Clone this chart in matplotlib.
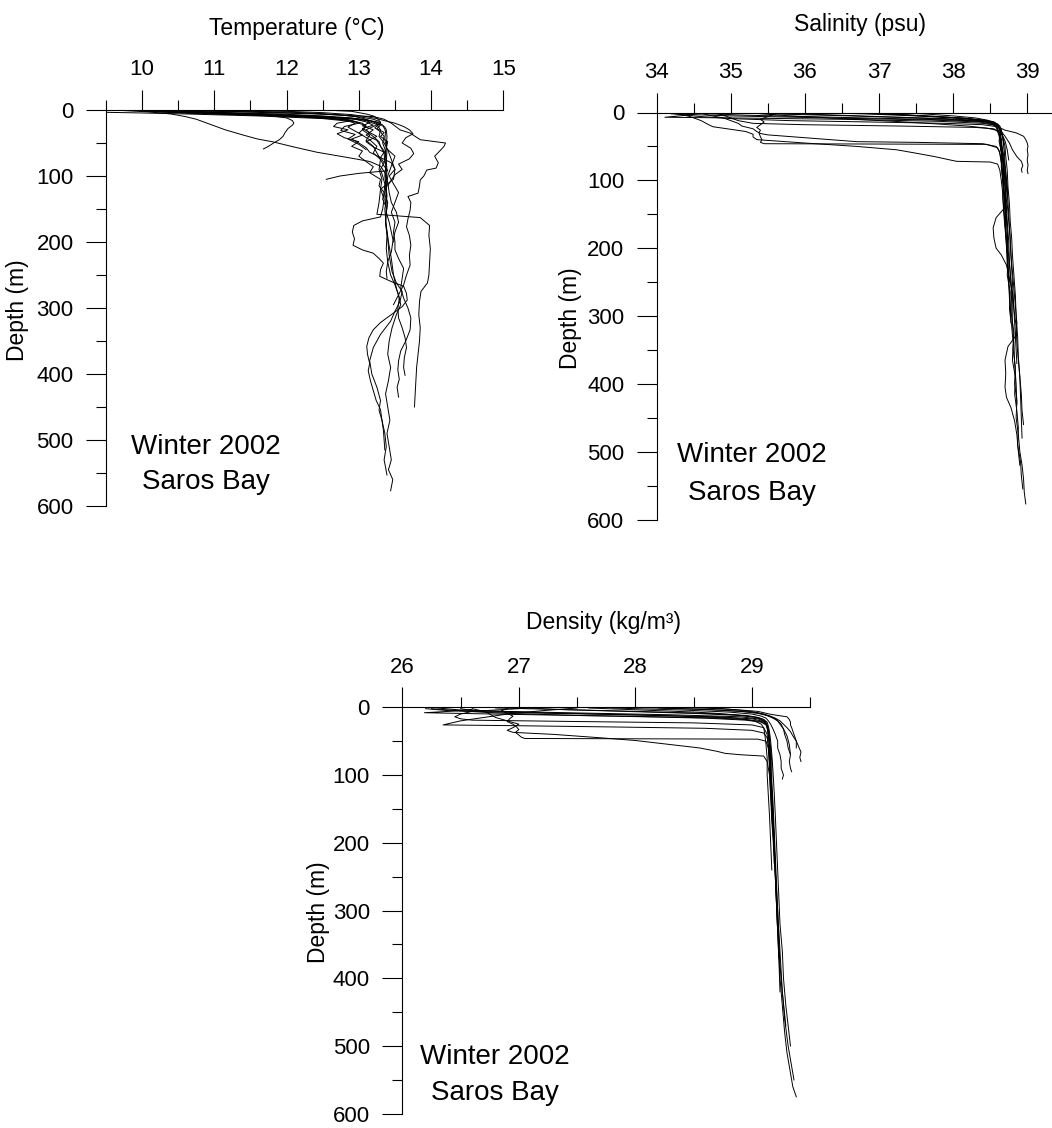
import matplotlib
matplotlib.use("Agg")
import matplotlib.pyplot as plt
from matplotlib.ticker import MultipleLocator

plt.rcParams["font.family"] = ["Liberation Sans", "DejaVu Sans"]

# ---------------------------------------------------------------------------
# CTD casts, Saros Bay, winter 2002.  Each cast: depth (m) and value.
# ---------------------------------------------------------------------------

# Temperature (degC)
t01_z = [1, 3, 6, 9, 12, 15, 18, 22, 26, 30, 40, 55, 70, 90, 110, 130, 150, 170, 190, 210,
         230, 250, 265, 280, 295, 310, 330, 350, 370, 390, 410, 430, 450, 470, 490, 510, 530, 545, 560, 577]
t01 = [10.0, 10.4, 11.3, 12.2, 12.8, 13.1, 13.25, 13.32, 13.36, 13.38, 13.39, 13.38, 13.37, 13.39, 13.38,
       13.36, 13.38, 13.37, 13.39, 13.38, 13.40, 13.44, 13.50, 13.55, 13.58, 13.52, 13.46, 13.42, 13.40, 13.44,
       13.41, 13.37, 13.40, 13.43, 13.39, 13.42, 13.45, 13.41, 13.47, 13.44]

t02_z = [2, 4, 7, 10, 13, 16, 20, 25, 32, 45, 60, 80, 100, 120, 145, 170, 195, 220, 245, 262,
         275, 290, 305, 320, 340, 360, 380, 400, 420, 440, 455, 470, 490, 510, 530, 553]
t02 = [10.3, 10.9, 11.8, 12.5, 12.95, 13.15, 13.28, 13.34, 13.37, 13.36, 13.39, 13.38, 13.36, 13.38, 13.39,
       13.37, 13.40, 13.42, 13.46, 13.52, 13.60, 13.57, 13.50, 13.44, 13.30, 13.20, 13.15, 13.18, 13.25, 13.30,
       13.28, 13.32, 13.36, 13.38, 13.35, 13.39]

t03_z = [1, 3, 6, 10, 14, 20, 30, 35, 45, 50, 55, 61, 70, 80, 88, 91, 100, 106, 115, 126,
         131, 140, 152, 165, 177, 190, 205, 220, 235, 250, 265, 280, 295]
t03 = [10.6, 11.4, 12.4, 13.2, 13.35, 13.45, 13.57, 13.71, 13.85, 14.20, 14.18, 14.13, 14.05, 14.10, 14.07,
       13.94, 13.90, 13.85, 13.84, 13.82, 13.68, 13.72, 13.71, 13.68, 13.66, 13.70, 13.72, 13.70, 13.71, 13.66,
       13.62, 13.55, 13.48]

t04_z = [1, 4, 8, 12, 16, 22, 30, 40, 50, 60, 75, 90, 105, 120, 140, 158, 163, 175, 190, 210,
         230, 250, 262, 275, 290, 310, 330, 350, 370, 390, 410, 430, 450]
t04 = [10.4, 11.0, 12.0, 12.8, 13.1, 13.25, 13.3, 13.28, 13.35, 13.40, 13.45, 13.50, 13.48, 13.30, 13.28,
       13.25, 13.85, 13.98, 13.97, 13.99, 13.98, 13.97, 13.95, 13.86, 13.84, 13.83, 13.85, 13.84, 13.82, 13.80,
       13.79, 13.78, 13.77]

t05_z = [2, 5, 8, 12, 16, 20, 25, 35, 45, 55, 65, 75, 90, 105, 120, 135, 150, 162, 168, 175,
         185, 195, 205, 212, 217, 225, 232, 242, 252, 260, 267, 278, 288, 298, 310, 322, 333, 345, 358, 370,
         384, 395, 410, 425, 440, 454, 470, 485, 500, 515]
t05 = [10.2, 10.8, 11.9, 12.6, 12.9, 13.05, 13.1, 13.0, 13.15, 13.25, 13.2, 13.3, 13.28, 13.32, 13.30,
       13.35, 13.33, 13.30, 13.05, 12.93, 12.91, 12.94, 12.92, 13.05, 13.20, 13.28, 13.34, 13.30, 13.29, 13.45,
       13.62, 13.66, 13.67, 13.60, 13.45, 13.30, 13.20, 13.14, 13.11, 13.12, 13.15, 13.13, 13.16, 13.20, 13.24,
       13.30, 13.32, 13.34, 13.35, 13.36]

t06_z = [3.5, 4.5, 6, 9, 13, 18, 24, 30, 38, 46, 55, 65, 75, 85, 92, 96, 100, 105]
t06 = [9.5, 10.0, 10.6, 11.6, 12.5, 12.95, 13.1, 13.05, 13.15, 13.1, 13.2, 13.25, 13.3, 13.35, 13.4,
       13.0, 12.74, 12.55]

t07_z = [0, 3, 6, 10, 14, 18, 24, 30, 38, 44, 48, 56, 64, 70, 74, 78, 85, 95, 110, 125,
         140, 155, 170, 185, 200, 215, 230, 245, 255]
t07 = [9.6, 10.1, 10.4, 10.6, 10.75, 10.85, 11.0, 11.15, 11.4, 11.6, 11.8, 12.1, 12.42, 12.74, 12.95,
       13.15, 13.3, 13.36, 13.40, 13.42, 13.45, 13.52, 13.55, 13.50, 13.47, 13.45, 13.40, 13.38, 13.39]

t08_z = [0, 3, 6, 9, 12, 16, 20, 23, 28, 34, 40, 45, 50, 55, 59]
t08 = [10.5, 10.9, 11.4, 11.8, 12.0, 12.08, 12.1, 12.08, 12.02, 11.98, 11.95, 11.9, 11.82, 11.75, 11.68]

t09_z = [1, 3, 6, 9, 12, 16, 20, 25, 30, 36, 42, 48, 55, 62, 70, 78, 86, 95, 105, 115, 125, 135, 145]
t09 = [10.2, 10.7, 11.6, 12.4, 12.75, 12.9, 12.7, 12.65, 12.85, 12.7, 12.8, 13.0, 12.9, 13.05, 13.0,
       13.1, 13.2, 13.15, 13.3, 13.28, 13.35, 13.33, 13.37]

t10_z = [2, 5, 8, 11, 14, 18, 23, 28, 34, 40, 48, 56, 64, 72, 80, 90, 100, 112, 125, 140,
         155, 170, 185, 200, 212, 225, 240, 255, 270, 285, 300, 315, 333, 350, 365, 380, 394, 408, 420, 435]
t10 = [10.0, 10.7, 11.7, 12.5, 12.95, 13.1, 13.2, 13.05, 13.15, 13.25, 13.1, 13.2, 13.35, 13.3, 13.45,
       13.5, 13.42, 13.48, 13.55, 13.5, 13.45, 13.5, 13.48, 13.5, 13.5, 13.55, 13.62, 13.6, 13.58, 13.62,
       13.68, 13.72, 13.71, 13.65, 13.58, 13.55, 13.54, 13.56, 13.53, 13.55]

t11_z = [0, 2, 4, 7, 10, 13, 16, 20, 25, 30, 36, 42, 50, 58, 66, 74, 82, 90, 98, 106, 115]
t11 = [11.5, 12.0, 12.5, 12.9, 13.1, 13.25, 13.35, 13.5, 13.62, 13.7, 13.75, 13.65, 13.6, 13.72, 13.76,
       13.7, 13.55, 13.6, 13.5, 13.45, 13.4]

t12_z = [1, 3, 5, 8, 11, 14, 18, 22, 27, 33, 40, 50, 62, 75, 90, 110, 130, 150, 175, 200,
         225, 250, 270, 285, 300, 315, 330, 345, 360, 375, 390, 402]
t12 = [10.8, 11.6, 12.3, 12.8, 13.05, 13.2, 13.3, 13.28, 13.22, 13.3, 13.35, 13.33, 13.37, 13.36, 13.38,
       13.37, 13.39, 13.36, 13.38, 13.41, 13.45, 13.48, 13.52, 13.56, 13.54, 13.55, 13.60, 13.64, 13.66, 13.63,
       13.62, 13.64]

t13_z = [0, 1, 2, 4, 6, 9, 12, 16, 20, 25, 30, 36, 42, 48, 55, 62, 70]
t13 = [12.6, 12.7, 12.9, 13.0, 13.1, 13.2, 13.25, 13.28, 13.3, 13.2, 13.1, 13.15, 13.22, 13.28, 13.3,
       13.35, 13.38]

t14_z = [0, 2, 5, 8, 11, 15, 20, 26, 32, 38, 44, 50, 57, 64, 72, 80, 90, 100, 112, 125,
         140, 155, 170, 185, 200]
t14 = [9.95, 10.3, 10.9, 11.7, 12.4, 12.8, 12.95, 12.85, 12.95, 13.05, 12.9, 13.0, 13.1, 13.15, 13.3,
       13.35, 13.3, 13.33, 13.36, 13.35, 13.4, 13.38, 13.42, 13.45, 13.48]

t15_z = [1, 2, 4, 6, 9, 12, 15, 19, 24, 30, 38, 46, 55, 65, 80]
t15 = [10.3, 10.6, 11.2, 11.9, 12.5, 12.9, 13.1, 13.15, 13.05, 13.2, 13.1, 13.25, 13.3, 13.35, 13.36]

t16_z = [0, 2, 3, 5, 7, 10, 14, 18, 23, 28, 34, 40, 48, 58, 70, 85, 100, 120]
t16 = [10.9, 11.5, 12.0, 12.4, 12.7, 12.95, 13.1, 13.2, 13.3, 13.25, 13.35, 13.3, 13.4, 13.38, 13.5,
       13.45, 13.4, 13.38]

t17_z = [2, 4, 6, 8, 10, 13, 16, 20, 25, 31, 37, 44, 52, 60]
t17 = [10.1, 10.5, 11.0, 11.6, 12.1, 12.6, 12.9, 13.0, 12.8, 12.75, 12.95, 12.85, 13.0, 13.1]

# Salinity (psu)
s01_z = [1, 4, 7, 10, 12, 14, 16, 18, 21, 25, 30, 40, 55, 70, 90, 110, 130, 150, 175, 200,
         225, 250, 275, 300, 325, 350, 375, 400, 425, 450, 475, 500, 520, 540, 560, 577]
s01 = [34.5, 35.2, 36.4, 37.6, 38.2, 38.45, 38.55, 38.6, 38.62, 38.63, 38.64, 38.65, 38.66, 38.67, 38.68,
       38.70, 38.71, 38.72, 38.73, 38.74, 38.76, 38.78, 38.80, 38.79, 38.82, 38.81, 38.84, 38.83, 38.86, 38.85,
       38.88, 38.90, 38.93, 38.95, 38.96, 38.98]

s02_z = [2, 5, 8, 11, 14, 17, 20, 24, 30, 40, 50, 65, 80, 100, 120, 140, 165, 190, 215, 240,
         265, 290, 315, 340, 365, 390, 415, 440, 465, 490, 515, 535, 555]
s02 = [34.2, 35.0, 36.3, 37.7, 38.35, 38.52, 38.58, 38.6, 38.62, 38.65, 38.64, 38.66, 38.68, 38.67, 38.69,
       38.71, 38.70, 38.72, 38.74, 38.73, 38.77, 38.76, 38.79, 38.81, 38.80, 38.84, 38.83, 38.86, 38.88, 38.87,
       38.91, 38.92, 38.94]

s03_z = [1, 3, 6, 9, 12, 15, 18, 22, 27, 35, 45, 60, 80, 100, 120, 140, 155, 170, 185, 200,
         210, 225, 245, 265, 290, 315, 340, 365, 390, 415, 440, 460]
s03 = [35.5, 36.2, 37.0, 37.9, 38.35, 38.5, 38.56, 38.58, 38.6, 38.62, 38.64, 38.66, 38.7, 38.72, 38.74,
       38.7, 38.58, 38.54, 38.55, 38.58, 38.65, 38.72, 38.76, 38.8, 38.82, 38.85, 38.86, 38.88, 38.9, 38.92,
       38.93, 38.95]

s04_z = [0, 2, 5, 8, 11, 14, 17, 20, 25, 32, 42, 55, 70, 90, 110, 135, 160, 185, 210, 235,
         260, 285, 310, 330, 345, 365, 385, 405, 420, 435, 455, 475, 500, 520]
s04 = [36.0, 36.8, 37.5, 38.1, 38.4, 38.55, 38.6, 38.63, 38.65, 38.66, 38.68, 38.67, 38.69, 38.7, 38.72,
       38.73, 38.75, 38.77, 38.78, 38.80, 38.82, 38.84, 38.86, 38.84, 38.74, 38.70, 38.71, 38.70, 38.72, 38.78,
       38.83, 38.86, 38.88, 38.90]

s05_z = [2, 6, 12, 18, 21, 24, 28, 32, 36, 40, 45, 50, 55, 60, 65, 70, 72, 73, 76, 85,
         100, 120, 145, 170, 195, 220, 250, 280, 310]
s05 = [34.3, 34.45, 34.6, 34.7, 34.76, 34.95, 35.2, 35.3, 35.3, 35.35, 36.0, 36.7, 37.24, 37.5, 37.75,
       37.96, 38.05, 38.5, 38.6, 38.63, 38.65, 38.67, 38.68, 38.7, 38.72, 38.74, 38.75, 38.77, 38.78]

s06_z = [1, 4, 8, 12, 16, 20, 24, 28, 31, 33, 38, 43, 44, 46, 50, 56, 65, 80, 100, 125,
         150, 175, 200, 225, 250]
s06 = [34.6, 34.7, 34.9, 35.0, 35.1, 35.15, 35.3, 35.35, 35.4, 35.5, 36.1, 36.7, 37.5, 38.4, 38.58,
       38.62, 38.64, 38.66, 38.68, 38.69, 38.7, 38.71, 38.73, 38.74, 38.76]

s07_z = [2, 6, 10, 14, 18, 22, 26, 30, 36, 40, 44, 46, 47, 52, 60, 75, 90, 110, 130]
s07 = [35.6, 35.5, 35.4, 35.45, 35.4, 35.35, 35.4, 35.38, 35.4, 35.42, 35.4, 35.45, 38.45, 38.6, 38.63,
       38.65, 38.66, 38.68, 38.7]

s08_z = [0, 2, 5, 8, 11, 14, 18, 22, 26, 30, 35, 40, 45, 50, 55, 62, 70, 78, 85, 90]
s08 = [37.2, 37.6, 38.0, 38.3, 38.45, 38.55, 38.6, 38.62, 38.7, 38.85, 38.95, 38.98, 39.0, 39.01, 39.0,
       39.01, 39.0, 39.01, 39.0, 39.01]

s09_z = [0, 3, 6, 9, 12, 15, 18, 22, 28, 35, 45, 55, 65, 72, 78, 84, 88]
s09 = [36.5, 37.2, 37.8, 38.2, 38.45, 38.55, 38.6, 38.62, 38.65, 38.7, 38.76, 38.8, 38.86, 38.92, 38.94,
       38.92, 38.93]

s10_z = [3, 7, 8, 10, 13, 16, 19, 23, 28, 35, 45, 60, 80, 100, 125, 150, 175, 200, 225, 250, 275, 300]
s10 = [34.5, 34.11, 35.0, 36.5, 37.8, 38.4, 38.58, 38.62, 38.63, 38.64, 38.63, 38.65, 38.66, 38.68, 38.67,
       38.69, 38.71, 38.72, 38.73, 38.75, 38.76, 38.78]

s11_z = [1, 5, 9, 13, 17, 20, 23, 26, 29, 33, 40, 50, 65, 85, 110, 135, 160, 185, 210, 240,
         270, 300, 330, 360, 390, 420, 450, 480]
s11 = [35.3, 35.8, 36.5, 37.2, 37.8, 38.2, 38.45, 38.58, 38.63, 38.66, 38.68, 38.7, 38.71, 38.73, 38.74,
       38.76, 38.77, 38.79, 38.8, 38.82, 38.84, 38.85, 38.87, 38.88, 38.9, 38.91, 38.92, 38.93]

s12_z = [0, 3, 6, 9, 12, 15, 19, 24, 30, 40, 55, 75, 100, 130, 160, 190, 220, 250, 280, 310,
         340, 370, 400, 430]
s12 = [37.0, 37.3, 37.8, 38.2, 38.4, 38.5, 38.56, 38.6, 38.62, 38.64, 38.66, 38.68, 38.7, 38.71, 38.73,
       38.75, 38.76, 38.78, 38.79, 38.8, 38.82, 38.83, 38.85, 38.86]

s13_z = [1, 4, 8, 12, 16, 18, 20, 22, 24, 28, 34, 42, 52, 64, 80, 100, 120, 140, 160]
s13 = [34.8, 34.9, 35.0, 35.1, 35.3, 36.0, 37.3, 38.3, 38.55, 38.6, 38.63, 38.62, 38.64, 38.66, 38.65,
       38.67, 38.68, 38.7, 38.71]

s14_z = [1, 3, 5, 7, 9, 11, 13, 15, 18, 22, 28, 36, 46, 60, 80, 100, 130, 160, 200]
s14 = [35.2, 35.9, 36.6, 37.2, 37.7, 38.1, 38.35, 38.5, 38.58, 38.62, 38.64, 38.63, 38.65, 38.67, 38.68,
       38.7, 38.71, 38.72, 38.74]

s15_z = [2, 4, 6, 9, 12, 14, 16, 18, 21, 25, 30, 40, 55, 75, 100, 130, 170, 210, 250, 290, 330, 370]
s15 = [34.25, 34.4, 34.6, 35.0, 35.8, 36.9, 37.9, 38.4, 38.6, 38.64, 38.66, 38.67, 38.69, 38.7, 38.72,
       38.74, 38.76, 38.78, 38.8, 38.82, 38.84, 38.86]

s16_z = [0, 2, 4, 6, 8, 10, 12, 14, 17, 20, 25, 32, 42, 55, 70]
s16 = [36.8, 37.1, 37.4, 37.7, 38.0, 38.2, 38.4, 38.5, 38.56, 38.6, 38.63, 38.66, 38.7, 38.73, 38.75]

# Density (sigma, kg/m3)
d01_z = [1, 3, 6, 9, 12, 15, 18, 22, 27, 35, 50, 70, 100, 130, 160, 200, 240, 280, 320, 360,
         400, 440, 480, 510, 540, 560, 575]
d01 = [26.8, 27.3, 28.0, 28.6, 28.95, 29.05, 29.1, 29.12, 29.13, 29.14, 29.15, 29.15, 29.16, 29.17, 29.18,
       29.19, 29.2, 29.21, 29.22, 29.23, 29.24, 29.26, 29.28, 29.3, 29.33, 29.35, 29.38]

d02_z = [2, 5, 8, 11, 14, 17, 21, 26, 33, 45, 60, 80, 110, 140, 180, 220, 260, 300, 340, 380,
         420, 460, 500, 530, 550]
d02 = [26.2, 26.4, 27.0, 27.9, 28.7, 29.0, 29.1, 29.13, 29.14, 29.15, 29.16, 29.17, 29.17, 29.18, 29.19,
       29.2, 29.21, 29.22, 29.23, 29.24, 29.26, 29.28, 29.31, 29.34, 29.36]

d03_z = [2, 6, 10, 15, 20, 25, 30, 34, 37, 40, 45, 49, 55, 60, 65, 68, 70, 72, 80, 100,
         130, 170, 210, 250, 290, 330]
d03 = [26.6, 26.7, 26.75, 26.8, 26.9, 27.0, 26.95, 26.9, 26.95, 27.3, 27.7, 28.0, 28.3, 28.55, 28.7,
       28.77, 28.9, 29.1, 29.13, 29.15, 29.16, 29.17, 29.19, 29.2, 29.21, 29.22]

d04_z = [2, 5, 9, 13, 17, 21, 25, 29, 33, 37, 41, 44, 46, 47, 50, 60, 80, 110, 150, 190, 230]
d04 = [26.9, 26.85, 26.9, 26.95, 26.92, 26.9, 26.95, 26.98, 27.0, 26.97, 27.0, 27.02, 27.05, 29.05, 29.12,
       29.14, 29.15, 29.16, 29.17, 29.18, 29.19]

d05_z = [3, 6, 8, 10, 13, 16, 19, 22, 26, 30, 40, 55, 75, 100, 130, 160, 200, 240, 280]
d05 = [26.6, 26.4, 26.19, 26.8, 27.8, 28.6, 28.95, 29.08, 29.12, 29.13, 29.14, 29.15, 29.16, 29.16, 29.17,
       29.18, 29.19, 29.2, 29.21]

d06_z = [1, 5, 10, 15, 20, 24, 26, 27, 29, 31, 34, 38, 45, 55, 70, 90, 120, 160, 200, 240,
         300, 360, 420, 470]
d06 = [27.5, 27.2, 26.9, 26.7, 26.5, 26.4, 26.35, 26.9, 27.8, 28.6, 29.0, 29.1, 29.13, 29.14, 29.15,
       29.16, 29.17, 29.18, 29.19, 29.2, 29.22, 29.24, 29.26, 29.29]

d07_z = [0, 2, 4, 6, 8, 10, 12, 14, 18, 22, 26, 30, 35, 40, 45, 50, 55, 60]
d07 = [28.4, 28.7, 28.9, 29.05, 29.1, 29.15, 29.22, 29.3, 29.32, 29.33, 29.33, 29.34, 29.35, 29.36, 29.37,
       29.38, 29.38, 29.38]

d08_z = [0, 3, 6, 9, 11, 13, 16, 20, 25, 30, 36, 42, 50, 58, 66, 74, 80]
d08 = [28.0, 28.6, 28.9, 29.05, 29.1, 29.15, 29.2, 29.24, 29.27, 29.3, 29.33, 29.35, 29.38, 29.4, 29.42,
       29.41, 29.42]

d09_z = [1, 4, 7, 10, 13, 16, 20, 25, 32, 40, 50, 60, 70, 80, 90, 100, 106]
d09 = [27.8, 28.4, 28.8, 29.0, 29.08, 29.12, 29.14, 29.16, 29.18, 29.2, 29.22, 29.22, 29.24, 29.25, 29.25,
       29.27, 29.26]

d10_z = [1, 4, 7, 10, 13, 16, 20, 25, 32, 40, 50, 60, 70, 80, 90, 95]
d10 = [28.2, 28.7, 29.0, 29.1, 29.14, 29.18, 29.22, 29.25, 29.27, 29.28, 29.3, 29.31, 29.33, 29.32, 29.33,
       29.34]

d11_z = [2, 5, 8, 11, 14, 17, 20, 24, 30, 40, 55, 75, 100, 130, 170, 210, 250, 290, 330, 370, 420]
d11 = [26.5, 26.6, 27.4, 28.3, 28.9, 29.05, 29.1, 29.12, 29.13, 29.14, 29.15, 29.15, 29.16, 29.17, 29.18,
       29.19, 29.2, 29.21, 29.22, 29.23, 29.24]

d12_z = [0, 3, 6, 9, 12, 15, 18, 22, 28, 36, 50, 70, 95, 125, 160, 200, 240, 280, 320, 360,
         400, 440, 470, 500]
d12 = [27.0, 27.3, 27.9, 28.5, 28.9, 29.05, 29.1, 29.13, 29.14, 29.15, 29.16, 29.17, 29.18, 29.19, 29.2,
       29.21, 29.22, 29.23, 29.24, 29.26, 29.27, 29.29, 29.31, 29.33]

d13_z = [1, 4, 8, 12, 16, 20, 25, 30, 40, 55, 75, 100, 130, 160, 200, 240]
d13 = [26.3, 26.5, 27.2, 28.2, 28.85, 29.02, 29.08, 29.1, 29.11, 29.12, 29.13, 29.13, 29.14, 29.15, 29.16,
       29.17]

d14_z = [0, 3, 6, 10, 14, 17, 19, 21, 23, 26, 30, 40, 60, 90, 130, 180]
d14 = [27.2, 26.9, 26.6, 26.5, 26.45, 26.5, 26.6, 27.5, 28.5, 29.0, 29.1, 29.13, 29.14, 29.15, 29.16,
       29.18]

d15_z = [1, 3, 5, 7, 9, 11, 13, 15, 18, 22, 28, 36, 46, 60, 80, 100, 130, 160, 200]
d15 = [27.6, 27.9, 28.2, 28.5, 28.7, 28.85, 28.95, 29.03, 29.08, 29.11, 29.13, 29.14, 29.15, 29.15, 29.16,
       29.16, 29.17, 29.18, 29.19]

d16_z = [2, 4, 6, 9, 12, 14, 16, 18, 21, 25, 30, 40, 55, 75, 100, 130, 170, 210, 250, 290, 330, 370]
d16 = [26.25, 26.4, 26.55, 26.9, 27.5, 28.2, 28.7, 28.95, 29.08, 29.12, 29.13, 29.14, 29.15, 29.16, 29.16,
       29.17, 29.18, 29.19, 29.2, 29.21, 29.22, 29.23]

d17_z = [0, 2, 4, 6, 8, 10, 12, 14, 17, 20, 25, 32, 42, 55, 70]
d17 = [28.6, 28.75, 28.88, 28.98, 29.05, 29.1, 29.14, 29.17, 29.2, 29.22, 29.24, 29.27, 29.3, 29.32, 29.33]

temperature_casts = [(t01_z, t01), (t02_z, t02), (t03_z, t03), (t04_z, t04), (t05_z, t05),
                     (t06_z, t06), (t07_z, t07), (t08_z, t08), (t09_z, t09), (t10_z, t10),
                     (t11_z, t11), (t12_z, t12), (t13_z, t13), (t14_z, t14), (t15_z, t15),
                     (t16_z, t16), (t17_z, t17)]
salinity_casts = [(s01_z, s01), (s02_z, s02), (s03_z, s03), (s04_z, s04), (s05_z, s05),
                  (s06_z, s06), (s07_z, s07), (s08_z, s08), (s09_z, s09), (s10_z, s10),
                  (s11_z, s11), (s12_z, s12), (s13_z, s13), (s14_z, s14), (s15_z, s15),
                  (s16_z, s16)]
density_casts = [(d01_z, d01), (d02_z, d02), (d03_z, d03), (d04_z, d04), (d05_z, d05),
                 (d06_z, d06), (d07_z, d07), (d08_z, d08), (d09_z, d09), (d10_z, d10),
                 (d11_z, d11), (d12_z, d12), (d13_z, d13), (d14_z, d14), (d15_z, d15),
                 (d16_z, d16), (d17_z, d17)]

# ---------------------------------------------------------------------------
W, H = 1052, 1128
fig = plt.figure(figsize=(W / 100, H / 100), dpi=100)


def add_axes_px(left, top, width, height):
    return fig.add_axes([left / W, 1 - (top + height) / H, width / W, height / H])


def fig_text(px, py, s, **kw):
    fig.text(px / W, 1 - py / H, s, ha="center", va="center", **kw)


def profile_panel(ax, casts, xlim):
    for z, v in casts:
        ax.plot(v, z, color="black", lw=0.7)
    ax.set_xlim(*xlim)
    ax.set_ylim(600, 0)
    ax.xaxis.set_major_locator(MultipleLocator(1))
    ax.xaxis.set_minor_locator(MultipleLocator(0.5))
    ax.yaxis.set_major_locator(MultipleLocator(100))
    ax.yaxis.set_minor_locator(MultipleLocator(50))
    ax.xaxis.tick_top()
    for side in ("right", "bottom"):
        ax.spines[side].set_visible(False)
    for side in ("top", "left"):
        ax.spines[side].set_linewidth(0.8)
        ax.spines[side].set_color("black")
    ax.tick_params(which="major", length=14.4, width=0.8, direction="out", labelsize=16)
    ax.tick_params(which="minor", length=7.2, width=0.8, direction="out")
    ax.tick_params(axis="x", pad=7)
    ax.tick_params(axis="y", pad=9)
    ax.patch.set_alpha(0)


ax_t = add_axes_px(106, 110, 397.3, 396)
profile_panel(ax_t, temperature_casts, (9.5, 15))
ax_s = add_axes_px(656.7, 112.5, 407.6, 407)
profile_panel(ax_s, salinity_casts, (34, 39.5))
ax_d = add_axes_px(402.3, 707.3, 408, 406.5)
profile_panel(ax_d, density_casts, (26, 29.5))

label_size = 16.5
fig_text(297, 28, "Temperature (°C)", fontsize=label_size)
fig_text(860, 25, "Salinity (psu)", fontsize=label_size)
fig_text(603, 622, "Density (kg/m³)", fontsize=label_size)

fig_text(18, 310, "Depth (m)", fontsize=label_size, rotation=90)
fig_text(571, 318, "Depth (m)", fontsize=label_size, rotation=90)
fig_text(318, 912, "Depth (m)", fontsize=label_size, rotation=90)

note_size = 20
for (cx, y1, y2) in [(206, 447, 482), (752, 455, 493), (495, 1057, 1093)]:
    fig_text(cx, y1, "Winter 2002", fontsize=note_size)
    fig_text(cx, y2, "Saros Bay", fontsize=note_size)

fig.savefig("out.png", dpi=100)
